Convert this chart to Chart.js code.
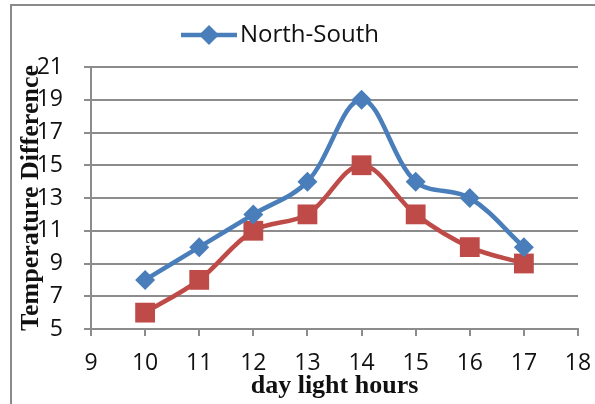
<!DOCTYPE html>
<html>
<head>
<meta charset="utf-8">
<script src="https://cdn.jsdelivr.net/npm/chart.js@4/dist/chart.umd.min.js"></script>
<style>
  html, body { margin: 0; padding: 0; background: #fff; }
  #wrap { position: relative; width: 595px; height: 404px; }
</style>
</head>
<body>
<div id="wrap"><canvas id="tdChart" width="595" height="404"></canvas></div>
<script>
// Chart data
const hours = [10, 11, 12, 13, 14, 15, 16, 17];
const northSouth = [8, 10, 12, 14, 19, 14, 13, 10];
const secondSeries = [6, 8, 11, 12, 15, 12, 10, 9];
const xTicks = [9, 10, 11, 12, 13, 14, 15, 16, 17, 18];
const yTicks = [5, 7, 9, 11, 13, 15, 17, 19, 21];

const BLUE = '#4A7EBB';
const RED = '#BE4B48';
const GRID = '#8C8C8C';
const tickFont = { family: "'Liberation Sans Narrow', 'Open Sans', sans-serif", size: 23 };
// tiny lineHeight lets the axis titles overlap the tick labels like the original
const titleFont = { family: "'Liberation Serif', 'DejaVu Serif', serif", size: 26, weight: 'bold', lineHeight: 0.1 };

const toPoints = (vals) => hours.map((h, i) => ({ x: h, y: vals[i] }));

// outer frame + one-line legend (only first series shown, like the original)
const framePlugin = {
  id: 'frame',
  beforeDraw(chart) {
    const c = chart.ctx;
    c.save();
    c.strokeStyle = '#8a8a8a';
    c.lineWidth = 2;
    c.strokeRect(11, 5, 700, 500);
    c.restore();
  },
  afterDraw(chart) {
    const c = chart.ctx;
    const ds = chart.data.datasets[0];
    const y = 35;
    c.save();
    c.strokeStyle = ds.borderColor;
    c.lineWidth = 4.5;
    c.beginPath();
    c.moveTo(181, y);
    c.lineTo(237, y);
    c.stroke();
    c.fillStyle = ds.borderColor;
    c.beginPath();
    c.moveTo(209, y - 10);
    c.lineTo(219, y);
    c.lineTo(209, y + 10);
    c.lineTo(199, y);
    c.closePath();
    c.fill();
    c.fillStyle = '#111';
    c.font = "24px 'Liberation Sans Narrow', 'Open Sans', sans-serif";
    c.textBaseline = 'middle';
    c.fillText(ds.label, 240, y);
    c.restore();
  }
};

new Chart(document.getElementById('tdChart'), {
  type: 'line',
  data: {
    datasets: [
      {
        label: 'North-South',
        data: toPoints(northSouth),
        borderColor: BLUE,
        backgroundColor: BLUE,
        borderWidth: 4.5,
        pointStyle: 'rectRot',
        pointRadius: 10,
        pointBorderWidth: 0,
        tension: 0.35
      },
      {
        label: 'East-West',
        data: toPoints(secondSeries),
        borderColor: RED,
        backgroundColor: RED,
        borderWidth: 4.5,
        pointStyle: 'rect',
        pointRadius: 14,
        pointBorderWidth: 0,
        tension: 0.35
      }
    ]
  },
  options: {
    responsive: false,
    animation: false,
    layout: { padding: { top: 67, left: 30, right: 0, bottom: 0 } },
    plugins: {
      legend: { display: false },
      tooltip: { enabled: false }
    },
    scales: {
      x: {
        type: 'linear',
        min: 9,
        max: 18,
        afterBuildTicks: (axis) => { axis.ticks = xTicks.map(v => ({ value: v })); },
        afterFit: (s) => { s.height = 75; s.paddingRight = 17; s.paddingLeft = 0; },
        border: { color: GRID, width: 2 },
        grid: { drawOnChartArea: false, drawTicks: true, tickLength: 7, color: GRID, lineWidth: 2 },
        ticks: { color: '#111', font: tickFont, padding: 14, maxRotation: 0 },
        title: { display: true, text: 'day light hours', color: '#111', font: titleFont, padding: { top: 0, bottom: 16 } }
      },
      y: {
        min: 5,
        max: 21,
        afterBuildTicks: (axis) => { axis.ticks = yTicks.map(v => ({ value: v })); },
        afterFit: (s) => { s.width = 61; },
        border: { color: GRID, width: 2 },
        grid: { color: GRID, lineWidth: 2, tickLength: 7 },
        ticks: { color: '#111', font: tickFont, padding: 21 },
        title: { display: true, text: 'Temperature Difference', color: '#111', font: titleFont, padding: { top: 0, bottom: 0 } }
      }
    }
  },
  plugins: [framePlugin]
});
</script>
</body>
</html>
